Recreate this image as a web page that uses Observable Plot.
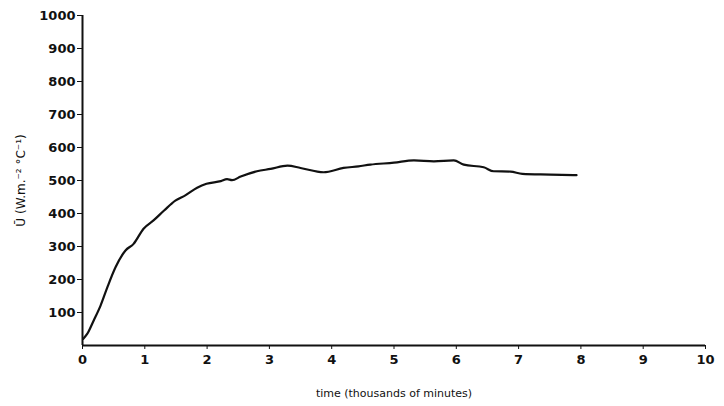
<!DOCTYPE html>
<html>
<head>
<meta charset="utf-8">
<script src="https://cdn.jsdelivr.net/npm/d3@7"></script>
<script src="https://cdn.jsdelivr.net/npm/@observablehq/plot@0.6"></script>
<style>
  html, body { margin: 0; padding: 0; background: #fff; }
  #chart svg { display: block; }
</style>
</head>
<body>
<div id="chart"></div>
<script>
// time in thousands of minutes
const time = [0.01, 0.075, 0.18, 0.29, 0.40, 0.53, 0.69, 0.82, 0.98, 1.14, 1.31, 1.49, 1.65, 1.84, 1.99, 2.22, 2.32, 2.40, 2.54, 2.80, 3.02, 3.29, 3.50, 3.87, 4.19, 4.43, 4.62, 5.00, 5.32, 5.64, 5.96, 6.12, 6.44, 6.60, 6.87, 7.06, 7.51, 7.93];
// mean U value (W m^-2 °C^-1)
const uValue = [20, 35, 76, 121, 177, 237, 288, 308, 354, 379, 409, 439, 455, 478, 490, 498, 504, 501, 512, 528, 535, 545, 538, 525, 538, 543, 548, 554, 561, 558, 561, 548, 540, 528, 527, 520, 518, 516];
const xTicks = [0, 1, 2, 3, 4, 5, 6, 7, 8, 9, 10];
const yTicks = [100, 200, 300, 400, 500, 600, 700, 800, 900, 1000];

const data = time.map((t, i) => ({t, u: uValue[i]}));

const chart = Plot.plot({
  width: 724,
  height: 406,
  marginLeft: 82,
  marginRight: 19,
  marginTop: 15,
  marginBottom: 61,
  style: {fontFamily: "'DejaVu Sans', sans-serif", fontSize: "13px", color: "#111", background: "#fff"},
  x: {domain: [0, 10]},
  y: {domain: [0, 1000]},
  marks: [
    Plot.axisX({ticks: xTicks, tickSize: 4, tickPadding: 5, fontWeight: "bold", tickFormat: "d", label: null}),
    Plot.axisX({ticks: [], label: "time (thousands of minutes)", labelAnchor: "center", labelArrow: false, labelOffset: 51, fontSize: 11}),
    Plot.axisY({ticks: yTicks, tickSize: 5, tickPadding: 2, fontWeight: "bold", tickFormat: "d", label: null}),
    Plot.axisY({ticks: [], label: "Ū (W.m.⁻² °C⁻¹)", labelAnchor: "center", labelArrow: false, labelOffset: 66, fontSize: 12}),
    Plot.ruleX([0], {stroke: "#111", strokeWidth: 2}),
    Plot.ruleY([0], {stroke: "#111", strokeWidth: 2}),
    Plot.line(data, {x: "t", y: "u", stroke: "#111", strokeWidth: 2.2, curve: "monotone-x"})
  ]
});
document.getElementById("chart").appendChild(chart);
</script>
</body>
</html>
